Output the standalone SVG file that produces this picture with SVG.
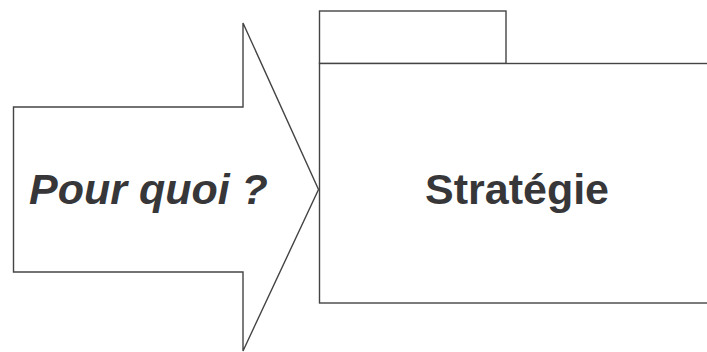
<svg xmlns="http://www.w3.org/2000/svg" width="707" height="352" viewBox="0 0 707 352">
<style>
.s{fill:#fff;stroke:#444;stroke-width:1.4}
.t{font-family:"Liberation Sans",Arial,sans-serif;font-weight:bold;font-size:43px;fill:#37373a}
</style>
<rect width="707" height="352" fill="#fff"/>
<g id="arrow">
<path class="s" d="M13.5,107 H243 V23 L318.5,189.5 L243,351 V272 H13.5 Z"/>
<text class="t" x="29" y="204" font-style="italic">Pour quoi ?</text>
</g>
<g id="package">
<rect class="s" x="319.5" y="11" width="186.5" height="52.5"/>
<rect class="s" x="319.5" y="63.5" width="390" height="239.5"/>
<text class="t" x="425" y="204">Stratégie</text>
</g>
<g id="connectors"/>
</svg>
